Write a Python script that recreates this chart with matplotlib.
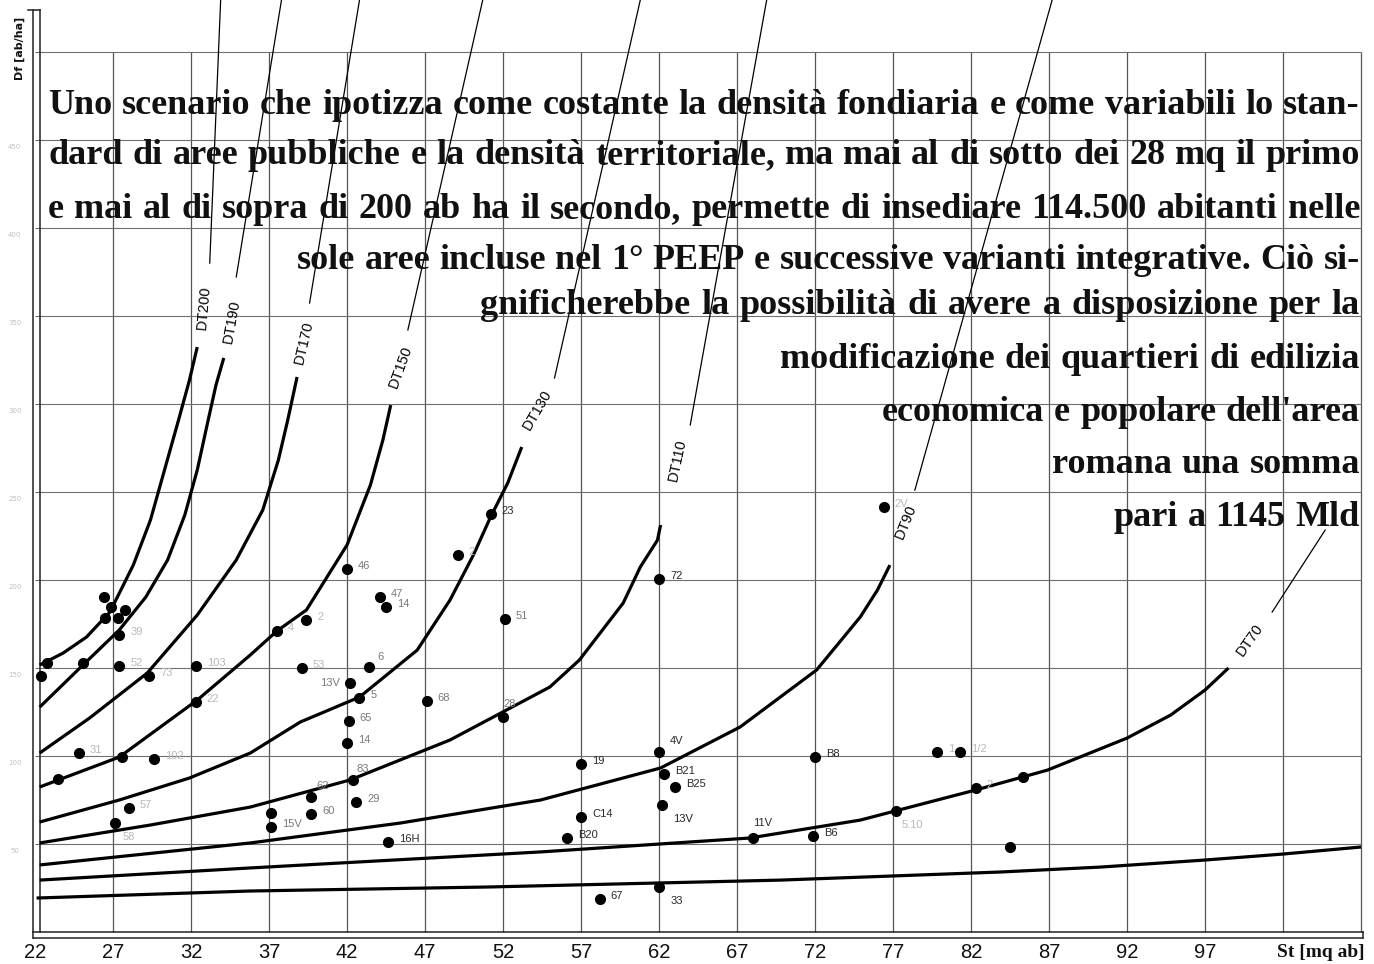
import numpy as np
import matplotlib.pyplot as plt

# St ticks along the bottom and grid positions
st_ticks = [22, 27, 32, 37, 42, 47, 52, 57, 62, 67, 72, 77, 82, 87, 92, 97]
st_grid = [27, 32, 37, 42, 47, 52, 57, 62, 67, 72, 77, 82, 87, 92, 97, 102, 107]
df_grid = [50, 100, 150, 200, 250, 300, 350, 400, 450, 500]
df_ticklabels = [50, 100, 150, 200, 250, 300, 350, 400, 450]

# DT curves (thick part): St [mq/ab] vs Df [ab/ha]
curve_names = ['DT200', 'DT190', 'DT170', 'DT150', 'DT130', 'DT110', 'DT90', 'DT70', '']
curve_st = [
    [22.3, 23.8, 25.3, 26.8, 28.3, 29.4, 30.3, 31.2, 31.9, 32.4],
    [22.3, 25.2, 27.4, 29.1, 30.5, 31.6, 32.4, 33.1, 33.6, 34.1],
    [22.3, 25.5, 29.2, 32.4, 34.9, 36.6, 37.6, 38.2, 38.8],
    [22.3, 27.4, 32.4, 35.8, 37.5, 39.4, 42.0, 43.5, 44.3, 44.8],
    [22.3, 27.4, 31.9, 35.8, 39.0, 42.8, 46.5, 48.6, 50.1, 51.2, 52.3, 53.2],
    [22.3, 29.4, 35.8, 42.2, 48.6, 55.0, 56.9, 59.7, 60.8, 61.9, 62.1],
    [22.3, 35.8, 45.4, 54.4, 62.1, 67.2, 72.1, 74.9, 76.0, 76.8],
    [22.3, 35.8, 54.4, 67.8, 74.9, 82.3, 86.9, 92.0, 94.8, 97.0, 98.5],
    [22.1, 35.8, 51.2, 69.8, 83.9, 90.3, 97.0, 102.0, 107.0],
]
curve_df = [
    [151.7, 158.5, 167.6, 181.8, 208.5, 234.1, 262.5, 290.9, 313.6, 332.4],
    [127.8, 152.8, 171.6, 190.3, 211.4, 236.9, 262.5, 290.9, 310.8, 326.2],
    [101.7, 121.6, 147.2, 180.1, 211.4, 239.8, 268.2, 290.9, 315.4],
    [82.4, 99.4, 131.8, 157.4, 171.0, 183.0, 219.9, 254.0, 279.6, 299.4],
    [62.5, 75.0, 87.5, 101.7, 119.3, 133.5, 160.2, 188.6, 214.2, 235.8, 255.1, 275.6],
    [50.6, 60.8, 71.0, 86.4, 109.1, 139.2, 154.6, 186.9, 207.4, 222.7, 231.3],
    [38.1, 50.6, 61.9, 75.0, 93.2, 116.5, 148.9, 179.0, 194.3, 208.5],
    [29.5, 36.4, 45.5, 53.4, 63.6, 80.7, 92.0, 110.2, 123.3, 137.5, 150.0],
    [19.3, 23.3, 25.6, 29.5, 34.1, 36.9, 40.9, 44.3, 48.3],
]

# thin continuation of each curve above its label
lead_st = [[33.2, 33.9], [34.9, 37.8], [39.6, 42.8], [45.9, 50.7],
           [55.3, 60.8], [64.0, 68.9], [78.4, 87.2], [101.3, 104.7]]
lead_df = [[380.1, 529.6], [372.2, 529.6], [357.4, 529.6], [342.1, 529.6],
           [314.8, 529.6], [288.1, 529.6], [251.1, 529.6], [181.8, 228.4]]

# curve label anchors
label_st = [32.8, 34.6, 39.2, 45.4, 54.2, 63.2, 77.8, 99.9]
label_df = [354.6, 346.6, 334.7, 321.0, 296.6, 268.2, 233.0, 165.9]
label_rot = [85, 80, 77, 70, 60, 78, 68, 55]

# PEEP areas
pt_st = [26.4, 26.9, 27.8, 26.5, 27.3, 27.4, 22.8, 22.4, 25.1, 27.4, 29.3, 32.3, 32.3,
         39.4, 37.5, 39.1, 24.8, 27.6, 29.6, 23.5, 28.0, 27.1, 37.1, 37.1, 39.7, 39.7,
         42.0, 44.1, 44.5, 52.1, 43.4, 42.2, 42.8, 47.1, 52.0, 42.1, 42.0, 42.4, 42.6,
         44.6, 49.1, 51.2, 76.4, 62.0, 57.0, 62.0, 62.3, 63.0, 62.2, 57.0, 56.1, 68.0,
         72.0, 71.9, 62.0, 58.2, 79.8, 81.3, 82.3, 85.3, 77.2, 84.5]
pt_df = [190.3, 184.7, 183.0, 178.4, 178.4, 168.8, 152.8, 145.5, 152.8, 151.1, 145.5, 151.1, 130.7,
         177.3, 171.0, 150.0, 101.7, 99.4, 98.3, 86.9, 70.5, 61.9, 67.6, 59.7, 76.7, 67.0,
         206.3, 190.3, 184.7, 177.8, 150.6, 141.5, 133.0, 131.3, 122.2, 119.9, 107.4, 86.4, 73.9,
         51.1, 214.2, 237.5, 241.5, 200.6, 95.5, 102.3, 89.8, 82.4, 72.2, 65.3, 53.4, 53.4,
         99.4, 54.5, 25.6, 18.8, 102.3, 102.3, 81.8, 88.1, 68.8, 48.3]
pt_lab = ['', '', '', '', '', '39', '', '', '', '52', '73', '103', '22',
          '2', '4', '53', '31', '', '102', '', '57', '58', '', '15V', '62', '60',
          '46', '47', '14', '51', '6', '13V', '5', '68', '28', '65', '14', '83', '29',
          '16H', '2', '23', '2V', '72', '19', '4V', 'B21', 'B25', '13V', 'C14', 'B20', '11V',
          'B8', 'B6', '33', '67', '1', '1/2', '2', '', '5.10', '']

paragraph = [
    "Uno scenario che ipotizza come costante la densità fondiaria e come variabili lo stan-",
    "dard di aree pubbliche e la densità territoriale, ma mai al di sotto dei 28 mq il primo",
    "e mai al di sopra di 200 ab ha il secondo, permette di insediare 114.500 abitanti nelle",
    "sole aree incluse nel 1° PEEP e successive varianti integrative. Ciò si-",
    "gnificherebbe la possibilità di avere a disposizione per la",
    "modificazione dei quartieri di edilizia",
    "economica e popolare dell'area",
    "romana una somma",
    "pari a 1145 Mld",
]

W, H = 1374, 964
fig = plt.figure(figsize=(W / 100, H / 100), dpi=100)
ax = fig.add_axes([0, 0, 1, 1])
ax.set_xlim(19.756, 107.83)
ax.set_ylim(-18.18, 529.6)
ax.axis('off')

# grid
ax.vlines(st_grid, 0, 500, color='#555555', lw=0.9, zorder=1)
ax.hlines(df_grid, 22, 107, color='#707070', lw=0.8, zorder=1)

# double axis lines
ax.plot([21.87, 21.87], [-3.4, 524], color='#222222', lw=1.1)
ax.plot([22.32, 22.32], [0, 524], color='#222222', lw=1.1)
ax.plot([21.55, 22.32], [524, 524], color='#222222', lw=1.1)
ax.plot([21.87, 107.1], [0, 0], color='#222222', lw=1.1)
ax.plot([21.87, 107.1], [-3.4, -3.4], color='#222222', lw=1.1, solid_capstyle='round')
ax.plot([107.1, 107.1], [0, -3.4], color='#222222', lw=1.1)

# curves
for i, name in enumerate(curve_names):
    ax.plot(curve_st[i], curve_df[i], color='black', lw=2.3, solid_capstyle='butt', zorder=3)
for i in range(len(lead_st)):
    ax.plot(lead_st[i], lead_df[i], color='black', lw=0.9, zorder=3)
    ax.text(label_st[i], label_df[i], curve_names[i], rotation=label_rot[i],
            ha='center', va='center', fontsize=10.5, family='Liberation Sans',
            rotation_mode='anchor', zorder=4)

# points and their codes
ax.plot(pt_st, pt_df, 'o', color='black', ms=7, zorder=5)
dark = {'72', '19', '4V', 'B21', 'B25', 'C14', 'B20', '11V', 'B8', 'B6', '33', '67', '16H', '23'}
mid = {'46', '47', '14', '51', '6', '5', '68', '28', '65', '83', '29', '62', '60', '15V', '13V'}
special = {31: (-7, 0, 'right'), 48: (8, -10, 'left'), 21: (6, -10, 'left'),
           24: (4, 8, 'left'), 34: (0, 9, 'left'), 37: (2, 8, 'left'),
           45: (8, 8, 'left'), 51: (0, 11, 'left'), 54: (8, -10, 'left'),
           60: (4, -10, 'left'), 30: (6, 7, 'left')}
for i, lab in enumerate(pt_lab):
    if not lab:
        continue
    dx, dy, ha = special.get(i, (8, 2, 'left'))
    if i == 48:
        col = '#222222'
    elif lab in dark:
        col = '#2a2a2a'
    elif lab in mid:
        col = '#7a7a7a'
    else:
        col = '#b8b8b8'
    ax.annotate(lab, (pt_st[i], pt_df[i]), xytext=(dx, dy), textcoords='offset points',
                ha=ha, va='center', fontsize=8, color=col, family='Liberation Sans', zorder=6)

# tick labels
for s in st_ticks:
    ax.text(s, -11.4, str(s), ha='center', va='center', fontsize=14.5,
            family='Liberation Sans', color='#111111')
ax.text(107.2, -11.4, 'St [mq ab]', ha='right', va='center', fontsize=14,
        family='Liberation Serif', fontweight='bold', color='#111111')
for d in df_ticklabels:
    ax.text(20.7, d - 4, str(d), ha='center', va='center', fontsize=5, color='#c0c0c0')
ax.text(21.0, 502, 'Df [ab/ha]', rotation=90, ha='center', va='center', fontsize=8,
        fontweight='bold', family='DejaVu Sans', color='#111111')

# justified paragraph
left_px = [48, 48, 48, 297, 480, 780, 882, 1052, 1113]
base_px = [114, 164, 218, 269, 314, 368, 421, 473, 526]
right_px = 1360
pfont = dict(family='Liberation Serif', fontweight='bold', color='#111111')
renderer = fig.canvas.get_renderer()


def word_widths(words, fs):
    out = []
    for w in words:
        t = fig.text(0, 0, w, fontsize=fs, **pfont)
        out.append(t.get_window_extent(renderer).width)
        t.remove()
    return out


for line, lx, by in zip(paragraph, left_px, base_px):
    words = line.split()
    fs = 26
    span = right_px - lx
    ws = word_widths(words, fs)
    min_gap = 0.17 * fs * 100 / 72
    if sum(ws) + min_gap * (len(words) - 1) > span:
        fs = fs * (span - min_gap * (len(words) - 1)) / sum(ws)
        ws = word_widths(words, fs)
    gap = (span - sum(ws)) / (len(words) - 1)
    x = lx
    for w, wd in zip(words, ws):
        fig.text(x / W, 1 - by / H, w, fontsize=fs, ha='left', va='baseline', **pfont)
        x += wd + gap

fig.savefig('out.png', dpi=100, facecolor='white')
